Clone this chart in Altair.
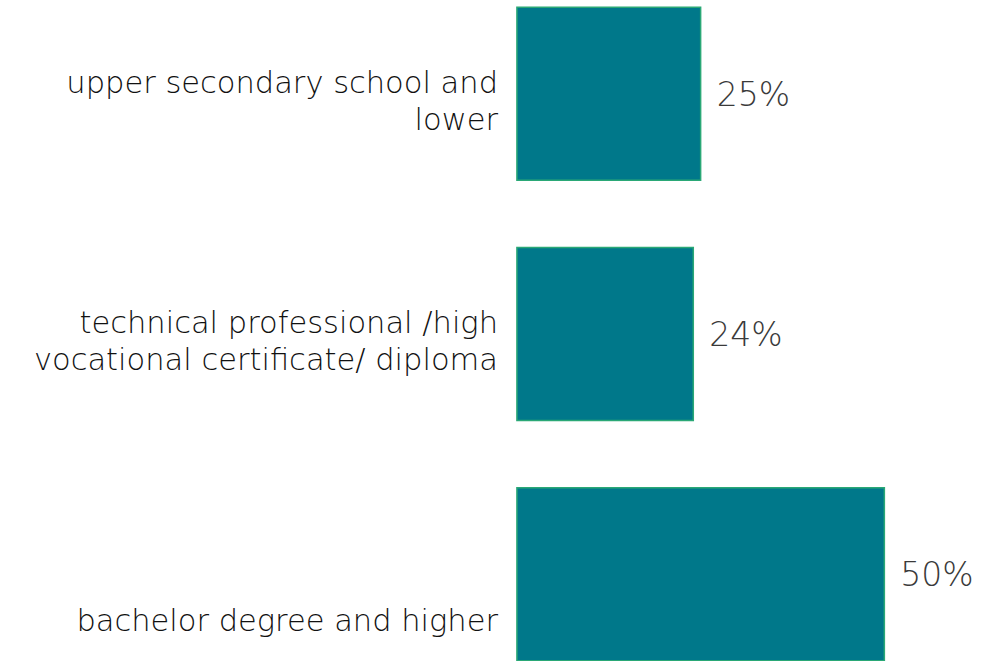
import altair as alt
import pandas as pd

categories = [
    "upper secondary school and lower",
    "technical professional /high vocational certificate/ diploma",
    "bachelor degree and higher",
]
label_lines = [
    ["upper secondary school and", "lower"],
    ["technical professional /high", "vocational certificate/ diploma"],
    ["bachelor degree and higher"],
]
values = [25, 24, 50]
pct_labels = ["25%", "24%", "50%"]

df = pd.DataFrame({
    "cat": categories,
    "value": values,
    "pct": pct_labels,
    "lines": label_lines,
})

y_enc = alt.Y("cat:N", sort=categories, axis=None,
              scale=alt.Scale(paddingInner=0.28, paddingOuter=0.03))
x_enc = alt.X("value:Q", axis=None,
              scale=alt.Scale(domain=[-70.34, 65.6], nice=False, zero=False))

bars = alt.Chart(df).mark_bar(color="#00788a", stroke="#2aa876", strokeWidth=1.5).encode(
    x=x_enc, x2=alt.datum(0), y=y_enc
)

pct = alt.Chart(df).mark_text(align="left", baseline="middle", dx=16, dy=2,
                              font="DejaVu Sans", fontSize=33, fontWeight=300,
                              color="#3a3a3a").encode(
    x=x_enc, y=y_enc, text="pct:N"
)

cat_text_top = alt.Chart(df).transform_filter(
    alt.datum.cat != categories[2]
).mark_text(align="right", baseline="middle", font="DejaVu Sans", fontSize=30.5,
            fontWeight=300, color="#111111", lineHeight=37, dy=-10).encode(
    x=alt.value(498), y=y_enc, text="lines"
)

cat_text_bottom = alt.Chart(df).transform_filter(
    alt.datum.cat == categories[2]
).mark_text(align="right", baseline="middle", font="DejaVu Sans", fontSize=30.5,
            fontWeight=300, color="#111111", dy=48).encode(
    x=alt.value(498), y=y_enc, text="lines"
)

chart = alt.layer(bars, pct, cat_text_top, cat_text_bottom).properties(
    width=999, height=668,
    padding=0,
    background="white",
    autosize=alt.AutoSizeParams(type="none"),
).configure_view(strokeWidth=0, stroke="transparent")

chart.save("out.html", embed_options={"renderer": "svg", "actions": False})
